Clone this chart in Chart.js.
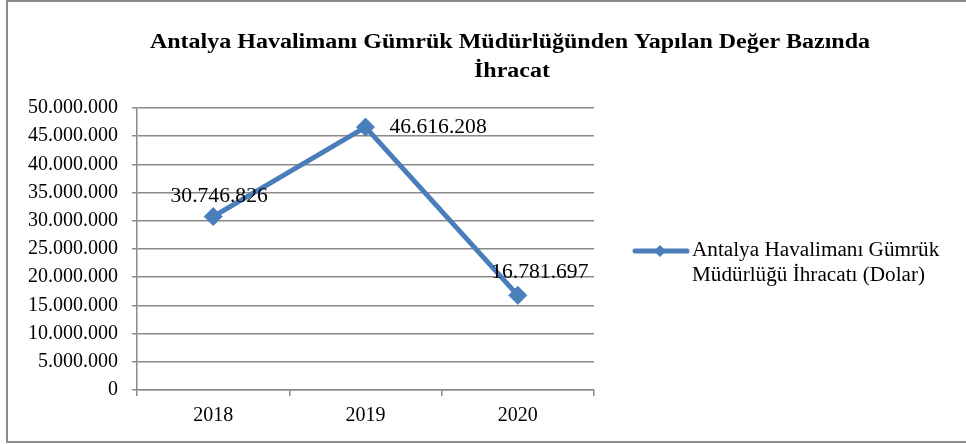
<!DOCTYPE html>
<html>
<head>
<meta charset="utf-8">
<script src="https://cdn.jsdelivr.net/npm/chart.js@4/dist/chart.umd.min.js"></script>
<style>
html,body{margin:0;padding:0;background:#fff;}
canvas{display:block;}
</style>
</head>
<body>
<canvas id="c" width="966" height="444"></canvas>
<script>
const categories = ['2018', '2019', '2020'];
const exportValues = [30746826, 46616208, 16781697];
const seriesName = ['Antalya Havalimanı Gümrük', 'Müdürlüğü İhracatı (Dolar)'];
const titleLines = ['Antalya Havalimanı Gümrük Müdürlüğünden Yapılan Değer Bazında', 'İhracat'];
const yMin = 0, yMax = 50000000, yStep = 5000000;

const BLUE = '#4a7ebb';
const FONT = '"Liberation Serif", "Times New Roman", serif';

function fmt(v) {
  return String(Math.round(v)).replace(/\B(?=(\d{3})+(?!\d))/g, '.');
}

function stretchedText(ctx, text, x, y, sx, align) {
  ctx.save();
  ctx.translate(x, y);
  ctx.scale(sx, 1);
  ctx.textAlign = align;
  ctx.fillText(text, 0, 0);
  ctx.restore();
}

const decor = {
  id: 'decor',
  afterDraw(chart) {
    const ctx = chart.ctx;
    ctx.save();
    // outer border
    ctx.strokeStyle = '#8c8c8c';
    ctx.lineWidth = 2;
    ctx.strokeRect(7, 1, 970, 441);
    // title
    ctx.fillStyle = '#000';
    ctx.font = 'bold 20px ' + FONT;
    ctx.textBaseline = 'alphabetic';
    stretchedText(ctx, titleLines[0], 510, 48, 1.2, 'center');
    stretchedText(ctx, titleLines[1], 512, 77, 1.2, 'center');
    // data labels
    const meta = chart.getDatasetMeta(0);
    const offs = [[6, -20, 'center'], [24, 1, 'left'], [22, -23, 'center']];
    ctx.font = '20px ' + FONT;
    ctx.textBaseline = 'middle';
    meta.data.forEach((pt, i) => {
      const o = offs[i];
      stretchedText(ctx, fmt(chart.data.datasets[0].data[i]), pt.x + o[0], pt.y + o[1], 1.08, o[2]);
    });
    // legend
    const ly = 251;
    ctx.strokeStyle = BLUE;
    ctx.lineWidth = 5;
    ctx.lineCap = 'round';
    ctx.beginPath();
    ctx.moveTo(635, ly);
    ctx.lineTo(687, ly);
    ctx.stroke();
    ctx.fillStyle = BLUE;
    ctx.beginPath();
    ctx.moveTo(660, ly - 6);
    ctx.lineTo(666, ly);
    ctx.lineTo(660, ly + 6);
    ctx.lineTo(654, ly);
    ctx.closePath();
    ctx.fill();
    ctx.fillStyle = '#000';
    ctx.textBaseline = 'middle';
    ctx.font = '20px ' + FONT;
    stretchedText(ctx, seriesName[0], 692, ly, 1.06, 'left');
    stretchedText(ctx, seriesName[1], 692, ly + 25, 1.06, 'left');
    ctx.restore();
  }
};

new Chart(document.getElementById('c'), {
  type: 'line',
  data: {
    labels: categories,
    datasets: [{
      label: seriesName.join(' '),
      data: exportValues,
      borderColor: BLUE,
      backgroundColor: BLUE,
      borderWidth: 5,
      pointStyle: 'rectRot',
      pointRadius: 9,
      pointBorderWidth: 1,
      pointBackgroundColor: BLUE,
      pointBorderColor: BLUE,
      tension: 0
    }]
  },
  options: {
    responsive: false,
    animation: false,
    devicePixelRatio: 1,
    layout: { padding: { left: 0, right: 372, top: 108, bottom: 0 } },
    plugins: { legend: { display: false }, title: { display: false }, tooltip: { enabled: false } },
    scales: {
      x: {
        type: 'category',
        offset: true,
        grid: { display: true, drawOnChartArea: false, drawTicks: true, tickLength: 6, color: '#8a8a8a', lineWidth: 1.5, offset: true },
        border: { display: true, color: '#8a8a8a', width: 1.5 },
        ticks: { color: '#000', font: { family: FONT, size: 20 }, padding: 8, maxRotation: 0 },
        afterFit(s) { s.height = 54; }
      },
      y: {
        min: yMin, max: yMax,
        grid: { color: '#8a8a8a', lineWidth: 1.5, drawTicks: true, tickLength: 5 },
        border: { display: true, color: '#8a8a8a', width: 1.5 },
        ticks: { stepSize: yStep, color: '#000', font: { family: FONT, size: 20 }, padding: 14, callback: v => fmt(v) },
        afterFit(s) { s.width = 137; }
      }
    }
  },
  plugins: [decor]
});
</script>
</body>
</html>
